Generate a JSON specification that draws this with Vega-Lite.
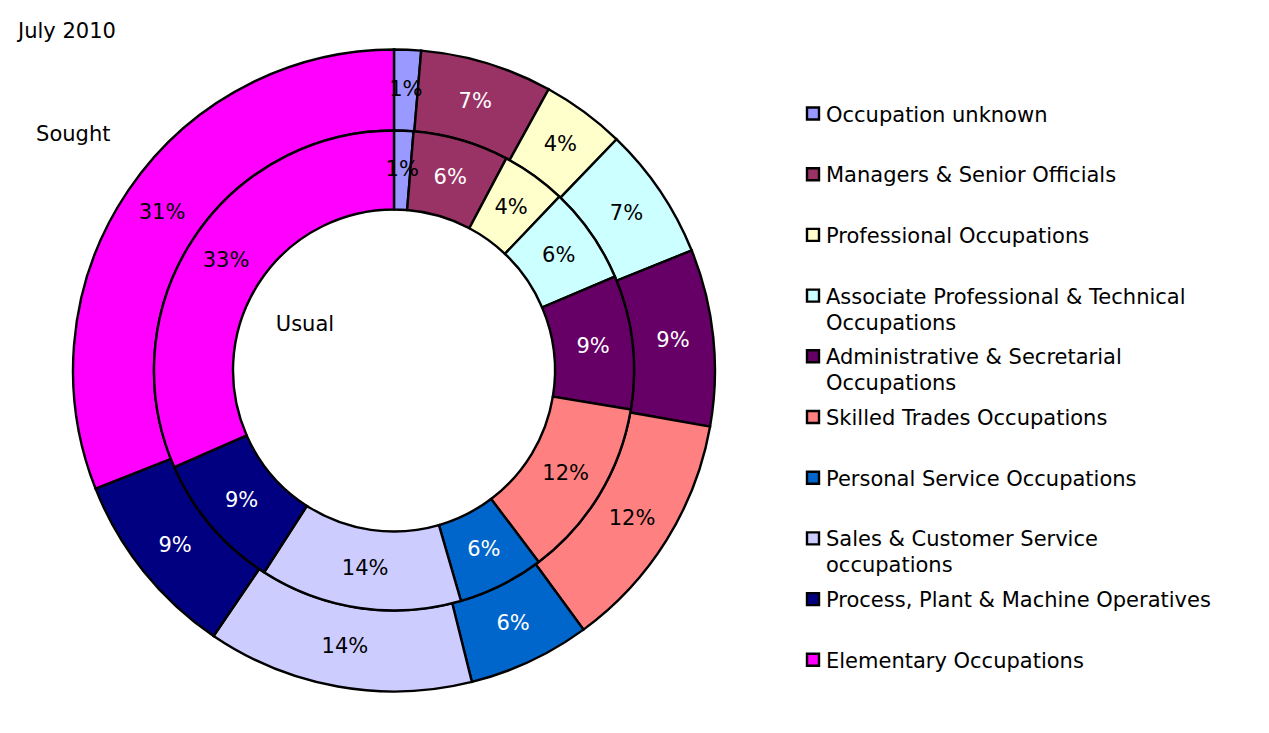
{
  "$schema": "https://vega.github.io/schema/vega-lite/v6.json",
  "width": 788,
  "height": 725,
  "autosize": {"type": "none"},
  "padding": {"left": 0, "top": 8, "right": 481, "bottom": 0},
  "background": "white",
  "title": {"text": "July 2010", "anchor": "start", "frame": "group", "font": "DejaVu Sans", "fontSize": 21, "fontWeight": "normal", "color": "black", "dx": 18, "dy": 34, "offset": 0},
  "datasets": {
    "rings": [
      {"ring": "Sought", "idx": 1, "occupation": "Occupation unknown", "value": 1.35, "label": "1%"},
      {"ring": "Sought", "idx": 2, "occupation": "Managers & Senior Officials", "value": 6.65, "label": "7%"},
      {"ring": "Sought", "idx": 3, "occupation": "Professional Occupations", "value": 4.2, "label": "4%"},
      {"ring": "Sought", "idx": 4, "occupation": "Associate Professional & Technical Occupations", "value": 6.7, "label": "7%"},
      {"ring": "Sought", "idx": 5, "occupation": "Administrative & Secretarial Occupations", "value": 8.9, "label": "9%"},
      {"ring": "Sought", "idx": 6, "occupation": "Skilled Trades Occupations", "value": 12.15, "label": "12%"},
      {"ring": "Sought", "idx": 7, "occupation": "Personal Service Occupations", "value": 6.15, "label": "6%"},
      {"ring": "Sought", "idx": 8, "occupation": "Sales & Customer Service occupations", "value": 13.4, "label": "14%"},
      {"ring": "Sought", "idx": 9, "occupation": "Process, Plant & Machine Operatives", "value": 9.5, "label": "9%"},
      {"ring": "Sought", "idx": 10, "occupation": "Elementary Occupations", "value": 31.0, "label": "31%"},
      {"ring": "Usual", "idx": 1, "occupation": "Occupation unknown", "value": 1.3, "label": "1%"},
      {"ring": "Usual", "idx": 2, "occupation": "Managers & Senior Officials", "value": 6.45, "label": "6%"},
      {"ring": "Usual", "idx": 3, "occupation": "Professional Occupations", "value": 4.35, "label": "4%"},
      {"ring": "Usual", "idx": 4, "occupation": "Associate Professional & Technical Occupations", "value": 6.5, "label": "6%"},
      {"ring": "Usual", "idx": 5, "occupation": "Administrative & Secretarial Occupations", "value": 9.0, "label": "9%"},
      {"ring": "Usual", "idx": 6, "occupation": "Skilled Trades Occupations", "value": 12.1, "label": "12%"},
      {"ring": "Usual", "idx": 7, "occupation": "Personal Service Occupations", "value": 5.8, "label": "6%"},
      {"ring": "Usual", "idx": 8, "occupation": "Sales & Customer Service occupations", "value": 13.6, "label": "14%"},
      {"ring": "Usual", "idx": 9, "occupation": "Process, Plant & Machine Operatives", "value": 9.3, "label": "9%"},
      {"ring": "Usual", "idx": 10, "occupation": "Elementary Occupations", "value": 31.6, "label": "33%"}
    ]
  },
  "data": {"name": "rings"},
  "layer": [
    {
      "transform": [{"filter": "datum.ring === 'Sought'"}],
      "mark": {"type": "arc", "radius": 321, "radius2": 240, "stroke": "black", "strokeWidth": 2.4},
      "encoding": {
        "theta": {"field": "value", "type": "quantitative", "stack": true},
        "order": {"field": "idx", "type": "quantitative"},
        "color": {
          "field": "occupation", "type": "nominal",
          "scale": {
            "domain": ["Occupation unknown", "Managers & Senior Officials", "Professional Occupations", "Associate Professional & Technical Occupations", "Administrative & Secretarial Occupations", "Skilled Trades Occupations", "Personal Service Occupations", "Sales & Customer Service occupations", "Process, Plant & Machine Operatives", "Elementary Occupations"],
            "range": ["#9999FF", "#993366", "#FFFFCC", "#CCFFFF", "#660066", "#FF8080", "#0066CC", "#CCCCFF", "#000080", "#FF00FF"]
          },
          "legend": {
            "title": null,
            "orient": "none",
            "legendX": 802.5,
            "legendY": 95,
            "padding": 0,
            "symbolType": "square",
            "symbolSize": 144,
            "symbolStrokeColor": "black",
            "symbolStrokeWidth": 2.4,
            "symbolOpacity": 1,
            "labelFont": "DejaVu Sans",
            "labelFontSize": 21,
            "labelColor": "black",
            "labelLimit": 600,
            "labelOffset": 2.5,
            "labelBaseline": "top",
            "rowPadding": 10.7,
            "labelExpr": "datum.label === 'Associate Professional & Technical Occupations' ? ['Associate Professional & Technical', 'Occupations'] : datum.label === 'Administrative & Secretarial Occupations' ? ['Administrative & Secretarial', 'Occupations'] : datum.label === 'Sales & Customer Service occupations' ? ['Sales & Customer Service', 'occupations'] : [datum.label, '']",
            "encode": {"labels": {"update": {"dy": {"value": -9}, "lineHeight": {"value": 26}}}}
          }
        }
      }
    },
    {
      "transform": [{"filter": "datum.ring === 'Usual'"}],
      "mark": {"type": "arc", "radius": 240, "radius2": 161, "stroke": "black", "strokeWidth": 2.4},
      "encoding": {
        "theta": {"field": "value", "type": "quantitative", "stack": true},
        "order": {"field": "idx", "type": "quantitative"},
        "color": {"field": "occupation", "type": "nominal"}
      }
    },
    {
      "transform": [{"filter": "datum.ring === 'Sought'"}],
      "mark": {"type": "text", "radius": 280.5, "font": "DejaVu Sans", "fontSize": 21},
      "encoding": {
        "theta": {"field": "value", "type": "quantitative", "stack": true},
        "order": {"field": "idx", "type": "quantitative"},
        "text": {"field": "label"},
        "color": {"condition": {"test": "indexof(['Managers & Senior Officials','Administrative & Secretarial Occupations','Personal Service Occupations','Process, Plant & Machine Operatives'], datum.occupation) >= 0", "value": "white"}, "value": "black"}
      }
    },
    {
      "transform": [{"filter": "datum.ring === 'Usual'"}],
      "mark": {"type": "text", "radius": 200.5, "font": "DejaVu Sans", "fontSize": 21},
      "encoding": {
        "theta": {"field": "value", "type": "quantitative", "stack": true},
        "order": {"field": "idx", "type": "quantitative"},
        "text": {"field": "label"},
        "color": {"condition": {"test": "indexof(['Managers & Senior Officials','Administrative & Secretarial Occupations','Personal Service Occupations','Process, Plant & Machine Operatives'], datum.occupation) >= 0", "value": "white"}, "value": "black"}
      }
    },
    {
      "data": {"values": [{"note": "Sought"}]},
      "mark": {"type": "text", "theta": 5.346, "radius": 398, "font": "DejaVu Sans", "fontSize": 21, "color": "black"},
      "encoding": {"text": {"field": "note"}}
    },
    {
      "data": {"values": [{"note": "Usual"}]},
      "mark": {"type": "text", "theta": 5.185, "radius": 100, "font": "DejaVu Sans", "fontSize": 21, "color": "black"},
      "encoding": {"text": {"field": "note"}}
    }
  ],
  "resolve": {"scale": {"theta": "independent"}},
  "config": {"view": {"stroke": null}, "font": "DejaVu Sans"}
}
